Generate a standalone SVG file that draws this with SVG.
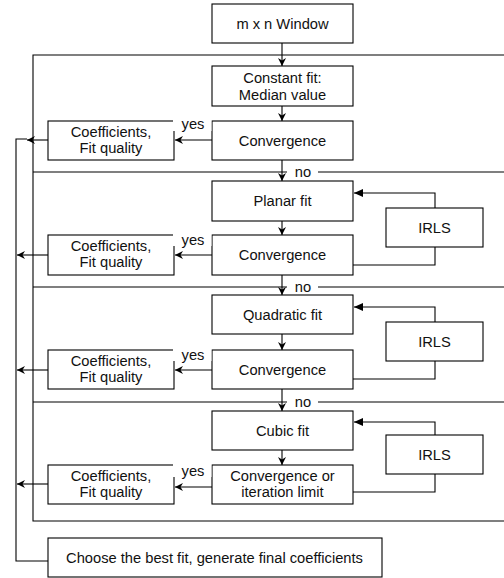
<svg xmlns="http://www.w3.org/2000/svg" width="504" height="578" viewBox="0 0 504 578">
<defs>
<marker id="arr" markerUnits="userSpaceOnUse" markerWidth="10" markerHeight="10" refX="8" refY="4" orient="auto">
<path d="M0,0 L8,4 L0,8 L2.5,4 z" fill="#000"/>
</marker>
<marker id="tri" markerUnits="userSpaceOnUse" markerWidth="10" markerHeight="10" refX="9" refY="4" orient="auto">
<path d="M0,0 L9,4 L0,8 z" fill="#000"/>
</marker>
</defs>
<style>
.box{fill:#fff;stroke:#000;stroke-width:1.1}
.ln{fill:none;stroke:#000;stroke-width:1.1}
.a{marker-end:url(#arr)}
.t{marker-end:url(#tri)}
text{font-family:"Liberation Sans",Arial,Helvetica,sans-serif;font-size:14.7px;fill:#111;text-anchor:middle}
.bg{fill:#fff;stroke:none}
</style>
<rect width="504" height="578" fill="#fff"/>
<g id="connectors">
<path class="ln" d="M504,55 H33 V521 H504"/>
<path class="ln" d="M33,172 H504"/>
<path class="ln" d="M33,287 H504"/>
<path class="ln" d="M33,402 H504"/>
<path class="ln a" d="M282,43 V66"/>
<path class="ln a" d="M282,106 V121"/>
<path class="ln a" d="M212,140 H175"/>
<path class="ln a" d="M48,140 H27"/>
<path class="ln" d="M27,139 H16 V561 H48"/>
<path class="ln a" d="M282,160 V181"/>
<path class="ln a" d="M282,221 V235"/>
<path class="ln a" d="M212,255 H175"/>
<path class="ln a" d="M48,255 H17"/>
<path class="ln" d="M353,265 H435 V247"/>
<path class="ln t" d="M435,208 V193 H354"/>
<path class="ln a" d="M282,275 V295"/>
<path class="ln a" d="M282,334 V350"/>
<path class="ln a" d="M212,370 H175"/>
<path class="ln a" d="M48,370 H17"/>
<path class="ln" d="M353,379 H435 V361"/>
<path class="ln t" d="M435,322 V307 H354"/>
<path class="ln a" d="M282,389 V411"/>
<path class="ln a" d="M282,450 V465"/>
<path class="ln a" d="M212,487 H175"/>
<path class="ln a" d="M48,484 H17"/>
<path class="ln" d="M353,492 H435 V474"/>
<path class="ln t" d="M435,435 V422 H354"/>
</g>
<g id="window"><rect class="box" x="212" y="4" width="141" height="39"/><text x="282.5" y="28.5">m x n Window</text></g>
<g id="constant"><rect class="box" x="212" y="66" width="141" height="40"/><text x="282.5" y="83">Constant fit:</text><text x="282.5" y="99.5">Median value</text></g>
<g id="conv1"><rect class="box" x="212" y="121" width="141" height="39"/><text x="282.5" y="145.5">Convergence</text></g>
<g id="coef1"><rect class="box" x="48" y="121" width="126" height="39"/><text x="111" y="136.5">Coefficients,</text><text x="111" y="152.5">Fit quality</text></g>
<g id="planar"><rect class="box" x="212" y="181" width="141" height="40"/><text x="282.5" y="206">Planar fit</text></g>
<g id="conv2"><rect class="box" x="212" y="235" width="141" height="40"/><text x="282.5" y="260">Convergence</text></g>
<g id="coef2"><rect class="box" x="48" y="235" width="126" height="40"/><text x="111" y="251">Coefficients,</text><text x="111" y="267">Fit quality</text></g>
<g id="irls1"><rect class="box" x="386" y="208" width="97" height="39"/><text x="434.5" y="232.5">IRLS</text></g>
<g id="quadratic"><rect class="box" x="212" y="295" width="141" height="39"/><text x="282.5" y="319.5">Quadratic fit</text></g>
<g id="conv3"><rect class="box" x="212" y="350" width="141" height="39"/><text x="282.5" y="374.5">Convergence</text></g>
<g id="coef3"><rect class="box" x="48" y="350" width="126" height="39"/><text x="111" y="366">Coefficients,</text><text x="111" y="382">Fit quality</text></g>
<g id="irls2"><rect class="box" x="386" y="322" width="97" height="39"/><text x="434.5" y="346.5">IRLS</text></g>
<g id="cubic"><rect class="box" x="212" y="411" width="141" height="39"/><text x="282.5" y="435.5">Cubic fit</text></g>
<g id="conv4"><rect class="box" x="212" y="465" width="141" height="39"/><text x="282.5" y="480.5">Convergence or</text><text x="282.5" y="497">iteration limit</text></g>
<g id="coef4"><rect class="box" x="48" y="465" width="126" height="39"/><text x="111" y="480.5">Coefficients,</text><text x="111" y="497">Fit quality</text></g>
<g id="irls3"><rect class="box" x="386" y="435" width="97" height="39"/><text x="434.5" y="459.5">IRLS</text></g>
<g id="choose"><rect class="box" x="48" y="538" width="334" height="39"/><text x="214.5" y="562.5">Choose the best fit, generate final coefficients</text></g>
<g id="labels">
<rect class="bg" x="173" y="116" width="38.5" height="15"/><text x="193" y="129">yes</text>
<rect class="bg" x="173" y="231" width="38.5" height="15"/><text x="193" y="244.5">yes</text>
<rect class="bg" x="173" y="346" width="38.5" height="15"/><text x="193" y="359.5">yes</text>
<rect class="bg" x="173" y="462" width="38.5" height="15"/><text x="193" y="475.5">yes</text>
<rect class="bg" x="287" y="166" width="31" height="13"/><text x="303" y="177">no</text>
<rect class="bg" x="287" y="281" width="31" height="13"/><text x="303" y="292">no</text>
<rect class="bg" x="287" y="396" width="31" height="13"/><text x="303" y="407">no</text>
</g>
</svg>
